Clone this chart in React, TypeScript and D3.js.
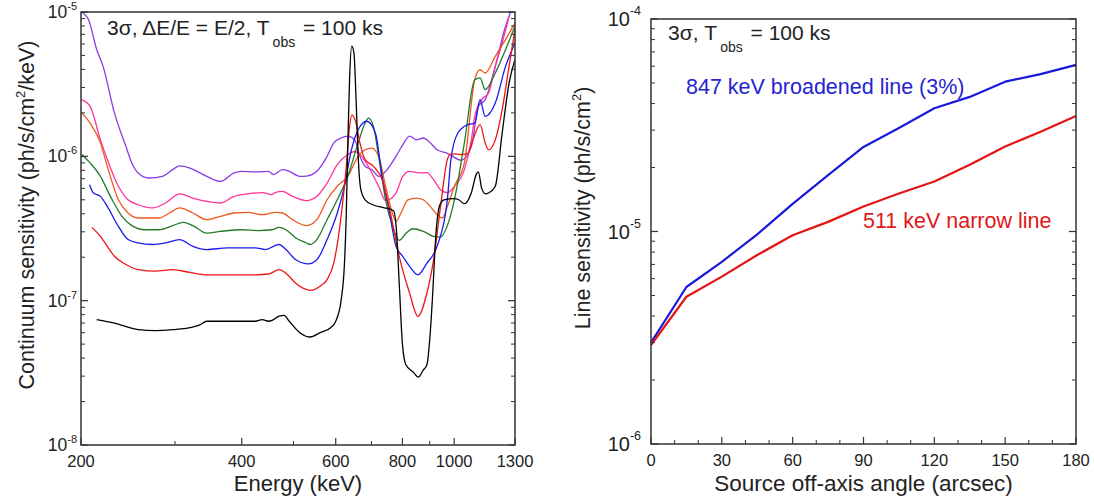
import * as d3 from "d3";

// ---- left panel: continuum sensitivity vs energy ----
const energyMajor = [200, 400, 600, 800, 1000, 1300];
const energyMinor = [300, 500, 700, 900];

const purpleCurve: [number, number][] = [
  [200, 1.0e-5], [202, 9.8e-6], [206.6, 8.85e-6], [214, 5.5e-6], [220, 4.2e-6], [231, 2.0e-6],
  [242.8, 1.17e-6], [249, 9.0e-7], [256, 7.67e-7], [268, 7.08e-7], [284, 7.27e-7], [297, 8.09e-7],
  [306, 8.6e-7], [320, 8.3e-7], [344, 7.27e-7], [365, 6.71e-7], [387, 7.67e-7], [399, 7.87e-7],
  [424, 7.8e-7], [449, 7.87e-7], [459, 7.47e-7], [477, 8.09e-7], [491, 7.87e-7], [514, 7.27e-7],
  [529, 7.3e-7], [553, 7.87e-7], [578, 1.0e-6], [595, 1.24e-6], [614, 1.34e-6], [632, 1.38e-6],
  [651, 1.3e-6], [666, 1.0e-6], [681, 8.53e-7], [701, 8.09e-7], [722, 7.27e-7], [744, 7.87e-7],
  [778, 1.0e-6], [801, 1.2e-6], [825, 1.38e-6], [850, 1.3e-6], [875, 1.34e-6], [902, 1.24e-6],
  [929, 1.11e-6], [971, 1.05e-6], [1031, 9.4e-7], [1077, 1.17e-6], [1110, 2.22e-6], [1143, 2.47e-6],
  [1194, 4.2e-6], [1248, 7.96e-6], [1276, 1.0e-5],
];

const pinkCurve: [number, number][] = [
  [200.6, 2.47e-6], [208, 2.22e-6], [217.5, 1.3e-6], [224, 9.5e-7], [235, 6.2e-7], [245, 5.0e-7],
  [256, 4.62e-7], [272, 4.39e-7], [288, 4.75e-7], [306, 5.5e-7], [324, 5.14e-7], [344, 4.88e-7],
  [365, 4.75e-7], [387, 5.28e-7], [411, 5.5e-7], [437, 5.6e-7], [456, 5.43e-7], [462, 5.6e-7],
  [477, 5.72e-7], [498, 5.28e-7], [529, 4.93e-7], [553, 5.28e-7], [578, 6.53e-7], [604, 8.75e-7],
  [632, 1.03e-6], [651, 1.08e-6], [671, 1.0e-6], [701, 7.67e-7], [722, 6.2e-7], [744, 4.93e-7],
  [778, 5.57e-7], [801, 7.27e-7], [825, 7.87e-7], [862, 7.67e-7], [889, 7.7e-7], [915, 6.9e-7],
  [943, 5.87e-7], [971, 5.6e-7], [1001, 6.2e-7], [1045, 8.09e-7], [1077, 1.3e-6], [1093, 1.89e-6],
  [1126, 2.47e-6], [1160, 2.75e-6], [1194, 4.2e-6], [1230, 6.1e-6], [1267, 9.3e-6],
];

const orangeCurve: [number, number][] = [
  [200.6, 2.0e-6], [208, 1.7e-6], [217.5, 1.24e-6], [224, 8.53e-7], [235, 5.0e-7], [245, 4.05e-7],
  [256, 3.74e-7], [280, 3.74e-7], [293, 4.05e-7], [306, 4.39e-7], [324, 4.05e-7], [344, 3.64e-7],
  [365, 3.84e-7], [387, 4.05e-7], [411, 4.09e-7], [437, 3.94e-7], [462, 4.09e-7], [477, 4.05e-7],
  [498, 3.64e-7], [529, 3.31e-7], [553, 3.64e-7], [578, 5.0e-7], [604, 6.2e-7], [632, 7.27e-7],
  [661, 1.0e-6], [681, 1.11e-6], [701, 1.14e-6], [722, 1.0e-6], [744, 6.2e-7], [766, 4.05e-7],
  [778, 3.55e-7], [795, 4.05e-7], [819, 5.0e-7], [850, 5.14e-7], [875, 5.0e-7], [902, 4.5e-7],
  [929, 3.94e-7], [950, 3.74e-7], [971, 4.5e-7], [1001, 6.2e-7], [1045, 9.0e-7], [1093, 3.4e-6],
  [1118, 3.98e-6], [1143, 3.78e-6], [1194, 4.93e-6], [1248, 6.43e-6], [1300, 8.4e-6],
];

const greenCurve: [number, number][] = [
  [200.6, 1.03e-6], [208, 9.0e-7], [217.5, 7.27e-7], [227, 5.28e-7], [238.7, 3.84e-7], [249, 3.31e-7],
  [264, 3.1e-7], [280, 3.1e-7], [297, 3.31e-7], [311, 3.49e-7], [324, 3.31e-7], [344, 2.94e-7],
  [365, 3.02e-7], [399, 3.1e-7], [430, 3.06e-7], [456, 3.1e-7], [470, 3.22e-7], [484, 3.1e-7],
  [505, 2.72e-7], [529, 2.51e-7], [537, 2.45e-7], [553, 2.65e-7], [578, 3.64e-7], [604, 5.0e-7],
  [632, 7.27e-7], [661, 1.24e-6], [681, 1.7e-6], [691, 1.84e-6], [706, 1.61e-6], [722, 1.0e-6],
  [744, 5.0e-7], [766, 3.31e-7], [789, 2.62e-7], [813, 2.94e-7], [837, 3.15e-7], [875, 3.02e-7],
  [915, 2.79e-7], [943, 2.76e-7], [971, 3.31e-7], [1001, 5.0e-7], [1045, 1.24e-6], [1093, 3.4e-6],
  [1118, 3.5e-6], [1143, 2.9e-6], [1194, 3.78e-6], [1248, 5.48e-6], [1300, 7.96e-6],
];

const blueCurve: [number, number][] = [
  [207.5, 6.36e-7], [211, 5.57e-7], [217.5, 5.28e-7], [224, 4.5e-7], [235, 3.27e-7], [245, 2.65e-7],
  [256, 2.51e-7], [272, 2.45e-7], [288, 2.51e-7], [306, 2.65e-7], [324, 2.38e-7], [344, 2.26e-7],
  [376, 2.32e-7], [399, 2.32e-7], [424, 2.32e-7], [443, 2.26e-7], [470, 2.45e-7], [484, 2.26e-7],
  [505, 1.92e-7], [533, 1.8e-7], [553, 1.92e-7], [578, 2.65e-7], [604, 4.05e-7], [623, 6.2e-7],
  [642, 1.11e-6], [661, 1.53e-6], [686, 1.75e-6], [712, 1.45e-6], [733, 7.27e-7], [755, 4.27e-7],
  [778, 2.38e-7], [801, 2.03e-7], [825, 1.73e-7], [855, 1.51e-7], [889, 1.82e-7], [929, 2.38e-7],
  [971, 5.0e-7], [986, 9.5e-7], [1016, 1.45e-6], [1061, 1.66e-6], [1093, 1.7e-6], [1118, 2.47e-6],
  [1143, 1.89e-6], [1194, 2.34e-6], [1248, 4.2e-6], [1300, 6.1e-6],
];

const redCurve: [number, number][] = [
  [209.6, 3.22e-7], [217.5, 2.79e-7], [224, 2.38e-7], [231, 2.03e-7], [242.8, 1.78e-7], [256, 1.64e-7],
  [276, 1.6e-7], [297, 1.64e-7], [320, 1.57e-7], [344, 1.51e-7], [371, 1.51e-7], [399, 1.51e-7],
  [424, 1.51e-7], [449, 1.53e-7], [470, 1.64e-7], [484, 1.55e-7], [505, 1.32e-7], [521, 1.22e-7],
  [537, 1.18e-7], [561, 1.26e-7], [578, 1.4e-7], [595, 1.82e-7], [614, 3.84e-7], [628, 8.53e-7],
  [637, 1.61e-6], [643, 1.94e-6], [655, 1.7e-6], [666, 1.24e-6], [681, 9.5e-7], [706, 8.53e-7],
  [733, 6.9e-7], [755, 4.5e-7], [789, 2.03e-7], [825, 1.13e-7], [855, 7.79e-8], [889, 1.13e-7],
  [915, 1.92e-7], [943, 4.5e-7], [971, 9.5e-7], [986, 1.04e-6], [1031, 1.03e-6], [1061, 1.05e-6],
  [1084, 1.3e-6], [1118, 1.66e-6], [1143, 1.24e-6], [1160, 1.11e-6], [1194, 1.3e-6], [1230, 2.1e-6],
  [1267, 4.2e-6], [1300, 7.55e-6],
];

const blackCurve: [number, number][] = [
  [214, 7.4e-8], [231, 7.0e-8], [256, 6.3e-8], [276, 6.2e-8], [297, 6.3e-8], [320, 6.5e-8],
  [334, 6.8e-8], [344, 7.2e-8], [365, 7.2e-8], [399, 7.2e-8], [424, 7.2e-8], [437, 7.4e-8],
  [449, 7.2e-8], [456, 7.3e-8], [470, 7.8e-8], [480, 7.9e-8], [491, 7.2e-8], [514, 6.0e-8],
  [537, 5.6e-8], [561, 6.0e-8], [587, 6.5e-8], [600, 7.2e-8], [614, 1.0e-7], [623, 1.8e-7],
  [628, 4.0e-7], [632, 1.2e-6], [637, 3.5e-6], [643, 5.8e-6], [649, 5.2e-6], [655, 2.5e-6],
  [661, 1.0e-6], [668, 6.0e-7], [681, 5.0e-7], [706, 4.6e-7], [740, 4.4e-7], [770, 4.2e-7],
  [780, 3.0e-7], [790, 1.2e-7], [800, 5.0e-8], [812, 3.6e-8], [838, 3.2e-8], [857, 2.95e-8],
  [875, 3.3e-8], [889, 3.6e-8], [902, 6.0e-8], [910, 1.0e-7], [925, 3.0e-7], [940, 4.6e-7],
  [957, 5.0e-7], [1000, 5.1e-7], [1020, 5.0e-7], [1045, 4.7e-7], [1077, 5.6e-7], [1100, 7.5e-7],
  [1110, 7.8e-7], [1126, 6.0e-7], [1145, 5.5e-7], [1160, 5.57e-7], [1194, 6.2e-7], [1230, 1.45e-6],
  [1267, 3.2e-6], [1300, 4.7e-6],
];

const leftSeries = [
  { name: "purple", color: "#8a3ce8", data: purpleCurve },
  { name: "pink", color: "#ff3399", data: pinkCurve },
  { name: "orange", color: "#ec5a1e", data: orangeCurve },
  { name: "green", color: "#237a2a", data: greenCurve },
  { name: "blue", color: "#1a1aee", data: blueCurve },
  { name: "red", color: "#ee1616", data: redCurve },
  { name: "black", color: "#000000", data: blackCurve },
];

// ---- right panel: line sensitivity vs off-axis angle ----
const angleMajor = [0, 30, 60, 90, 120, 150, 180];
const angleMinor = [10, 20, 40, 50, 70, 80, 100, 110, 130, 140, 160, 170];
const angles = [0, 15, 30, 45, 60, 75, 90, 105, 120, 135, 150, 165, 180];
const broad847 = [3.0e-6, 5.48e-6, 7.2e-6, 9.7e-6, 1.35e-5, 1.84e-5, 2.5e-5, 3.07e-5, 3.8e-5, 4.3e-5, 5.07e-5, 5.5e-5, 6.08e-5];
const narrow511 = [2.92e-6, 4.93e-6, 6.13e-6, 7.75e-6, 9.6e-6, 1.11e-5, 1.31e-5, 1.51e-5, 1.72e-5, 2.06e-5, 2.51e-5, 2.95e-5, 3.5e-5];

const FONT = "'Liberation Sans', Arial, Helvetica, sans-serif";
const INK = "#222";

function logMinors(lo: number, hi: number) {
  const out: number[] = [];
  for (let d = lo; d < hi; d++) for (let k = 2; k <= 9; k++) out.push(k * Math.pow(10, d));
  return out;
}

function PowLabel({ x, y, exp, size, sup, lift }: { x: number; y: number; exp: number; size: number; sup: number; lift: number }) {
  return (
    <text x={x} y={y} textAnchor="end" fontSize={size} fill={INK} fontFamily={FONT}>
      10<tspan dy={-lift} fontSize={sup}>{exp}</tspan>
    </text>
  );
}

function LeftPanel() {
  const L = 81, R = 515, T = 12, B = 445;
  const x = d3.scaleLog().domain([200, 1300]).range([L, R]);
  const y = d3.scaleLog().domain([1e-8, 1e-5]).range([B, T]);
  const line = d3.line<[number, number]>().x(d => x(d[0])).y(d => y(d[1])).curve(d3.curveMonotoneX);
  const majorsY = [-8, -7, -6, -5];
  return (
    <g>
      <defs>
        <clipPath id="clipL"><rect x={L} y={T} width={R - L} height={B - T} /></clipPath>
      </defs>
      <g clipPath="url(#clipL)">
        {leftSeries.map(s => (
          <path key={s.name} d={line(s.data) || ""} fill="none" stroke={s.color} strokeWidth={1.3} strokeLinejoin="round" />
        ))}
      </g>
      {logMinors(-8, -5).map(v => (
        <g key={v}>
          <line x1={L} x2={L + 4} y1={y(v)} y2={y(v)} stroke="#333" strokeWidth={1} />
          <line x1={R} x2={R - 4} y1={y(v)} y2={y(v)} stroke="#333" strokeWidth={1} />
        </g>
      ))}
      {majorsY.map(e => (
        <g key={e}>
          <line x1={L} x2={L + 7} y1={y(Math.pow(10, e))} y2={y(Math.pow(10, e))} stroke="#333" strokeWidth={1.2} />
          <line x1={R} x2={R - 7} y1={y(Math.pow(10, e))} y2={y(Math.pow(10, e))} stroke="#333" strokeWidth={1.2} />
          <PowLabel x={77} y={y(Math.pow(10, e)) + 6} exp={e} size={17.5} sup={11} lift={8} />
        </g>
      ))}
      {energyMinor.map(v => (
        <line key={v} x1={x(v)} x2={x(v)} y1={B} y2={B - 4} stroke="#333" strokeWidth={1} />
      ))}
      {energyMajor.map(v => (
        <g key={v}>
          <line x1={x(v)} x2={x(v)} y1={B} y2={B - 7} stroke="#333" strokeWidth={1.2} />
          <text x={x(v)} y={467} textAnchor="middle" fontSize={16.5} fill={INK} fontFamily={FONT}>{v}</text>
        </g>
      ))}
      <rect x={L} y={T} width={R - L} height={B - T} fill="none" stroke="#333" strokeWidth={1.5} />
      <text x={107} y={35} fontSize={21} fill={INK} fontFamily={FONT}>
        3σ, ΔE/E = E/2, T<tspan dx={3} dy={12} fontSize={14}>obs</tspan><tspan dx={2} dy={-12}> = 100 ks</tspan>
      </text>
      <text x={(L + R) / 2} y={491} textAnchor="middle" fontSize={22} fill={INK} fontFamily={FONT}>Energy (keV)</text>
      <text transform="translate(34,215) rotate(-90)" textAnchor="middle" fontSize={21.5} fill={INK} fontFamily={FONT}>
        Continuum sensitivity (ph/s/cm<tspan dy={-9} fontSize={13}>2</tspan><tspan dy={9}>/keV)</tspan>
      </text>
    </g>
  );
}

function RightPanel() {
  const L = 651, R = 1076, T = 19, B = 444;
  const x = d3.scaleLinear().domain([0, 180]).range([L, R]);
  const y = d3.scaleLog().domain([1e-6, 1e-4]).range([B, T]);
  const line = d3.line<number>().x((_, i) => x(angles[i])).y(d => y(d));
  const majorsY = [-6, -5, -4];
  return (
    <g>
      <path d={line(broad847) || ""} fill="none" stroke="#1a1add" strokeWidth={2.2} strokeLinejoin="round" />
      <path d={line(narrow511) || ""} fill="none" stroke="#e41414" strokeWidth={2.2} strokeLinejoin="round" />
      {logMinors(-6, -4).map(v => (
        <g key={v}>
          <line x1={L} x2={L + 4} y1={y(v)} y2={y(v)} stroke="#333" strokeWidth={1} />
          <line x1={R} x2={R - 4} y1={y(v)} y2={y(v)} stroke="#333" strokeWidth={1} />
        </g>
      ))}
      {majorsY.map(e => (
        <g key={e}>
          <line x1={L} x2={L + 7} y1={y(Math.pow(10, e))} y2={y(Math.pow(10, e))} stroke="#333" strokeWidth={1.2} />
          <line x1={R} x2={R - 7} y1={y(Math.pow(10, e))} y2={y(Math.pow(10, e))} stroke="#333" strokeWidth={1.2} />
          <PowLabel x={641} y={y(Math.pow(10, e)) + 7} exp={e} size={20} sup={12.5} lift={11} />
        </g>
      ))}
      {angleMinor.map(v => (
        <line key={v} x1={x(v)} x2={x(v)} y1={B} y2={B - 4} stroke="#333" strokeWidth={1} />
      ))}
      {angleMajor.map(v => (
        <g key={v}>
          <line x1={x(v)} x2={x(v)} y1={B} y2={B - 7} stroke="#333" strokeWidth={1.2} />
          <text x={x(v)} y={466} textAnchor="middle" fontSize={16.5} fill={INK} fontFamily={FONT}>{v}</text>
        </g>
      ))}
      <rect x={L} y={T} width={R - L} height={B - T} fill="none" stroke="#333" strokeWidth={1.5} />
      <text x={668} y={40} fontSize={21} fill={INK} fontFamily={FONT}>
        3σ, T<tspan dx={3} dy={12} fontSize={14}>obs</tspan><tspan dx={2} dy={-12}> = 100 ks</tspan>
      </text>
      <text x={686} y={94} fontSize={21.5} fill="#2424d0" fontFamily={FONT}>847 keV broadened line (3%)</text>
      <text x={863} y={228} fontSize={21.5} fill="#e01818" fontFamily={FONT}>511 keV narrow line</text>
      <text x={(L + R) / 2} y={491} textAnchor="middle" fontSize={22.5} fill={INK} fontFamily={FONT}>Source off-axis angle (arcsec)</text>
      <text transform="translate(590,208) rotate(-90)" textAnchor="middle" fontSize={21.5} fill={INK} fontFamily={FONT}>
        Line sensitivity (ph/s/cm<tspan dy={-9} fontSize={13}>2</tspan><tspan dy={9}>)</tspan>
      </text>
    </g>
  );
}

export default function App() {
  return (
    <div style={{ position: "absolute", left: 0, top: 0, background: "#fff" }}>
      <svg width={1094} height={504} viewBox="0 0 1094 504" style={{ display: "block" }}>
        <rect width={1094} height={504} fill="#fff" />
        <LeftPanel />
        <RightPanel />
      </svg>
    </div>
  );
}
